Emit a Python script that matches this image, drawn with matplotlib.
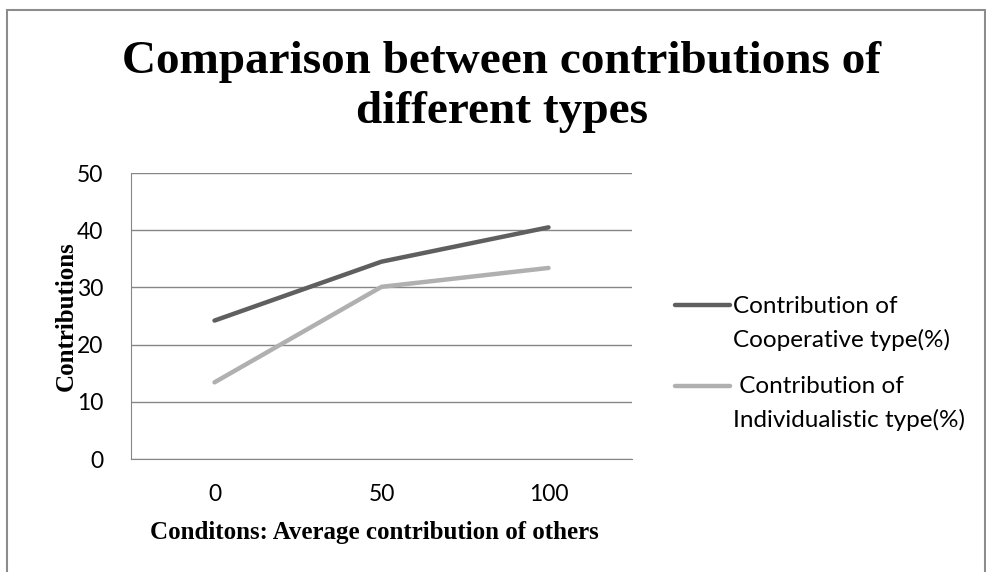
import matplotlib
matplotlib.use("Agg")
import matplotlib.pyplot as plt
from matplotlib.lines import Line2D
from matplotlib.patches import Rectangle

conditions = ["0", "50", "100"]
cooperative = [24.2, 34.5, 40.5]
individualistic = [13.4, 30.1, 33.4]
labels = ["Contribution of\nCooperative type(%)", " Contribution of\nIndividualistic type(%)"]
colors = ["#5f5f5f", "#b0b0b0"]

W, H = 987, 572
fig = plt.figure(figsize=(W / 100, H / 100), dpi=100)
ax = fig.add_axes([131 / W, 1 - 459 / H, 501 / W, 286 / H])

x = range(len(conditions))
for vals, c in zip([cooperative, individualistic], colors):
    ax.plot(x, vals, color=c, lw=3.2, solid_capstyle="round")

ax.set_xlim(-0.5, 2.5)
ax.set_ylim(0, 50)
ax.set_yticks(range(0, 51, 10))
ax.set_xticks(list(x))
ax.set_xticklabels(conditions)
ax.grid(axis="y", color="#868686", lw=1)
ax.set_axisbelow(True)
for s in ["top", "right"]:
    ax.spines[s].set_visible(False)
for s in ["left", "bottom"]:
    ax.spines[s].set_color("#868686")
ax.tick_params(length=0, labelsize=16.5)
ax.tick_params(axis="y", pad=20)
ax.tick_params(axis="x", pad=18)
for t in ax.get_xticklabels() + ax.get_yticklabels():
    t.set_fontfamily("Lato")

fig.text(502 / W, 1 - 87 / H, "Comparison between contributions of\ndifferent types",
         ha="center", va="center", fontsize=34, fontweight="bold",
         family="Liberation Serif", linespacing=1.28)
fig.text(374 / W, 1 - 532 / H, "Conditons: Average contribution of others",
         ha="center", va="center", fontsize=18, fontweight="bold", family="Liberation Serif")
fig.text(66 / W, 1 - 316 / H, "Contributions", rotation=90,
         ha="center", va="center", fontsize=18, fontweight="bold", family="Liberation Serif")

# legend drawn by hand: handle level with first text line
for i, (lab, c) in enumerate(zip(labels, colors)):
    y0 = 1 - (305 + i * 81) / H
    fig.add_artist(Line2D([675 / W, 730 / W], [y0, y0], color=c, lw=3.2,
                          solid_capstyle="round", transform=fig.transFigure))
    fig.text(733 / W, 1 - (347 + i * 80) / H, lab, ha="left", va="baseline",
             fontsize=17.5, family="Lato", linespacing=1.65)

fig.add_artist(Rectangle((7 / W, -0.1), 978 / W, 1 - 10 / H + 0.1, fill=False,
                         edgecolor="#8c8c8c", lw=1.5, transform=fig.transFigure))

fig.savefig("out.png", dpi=100)
